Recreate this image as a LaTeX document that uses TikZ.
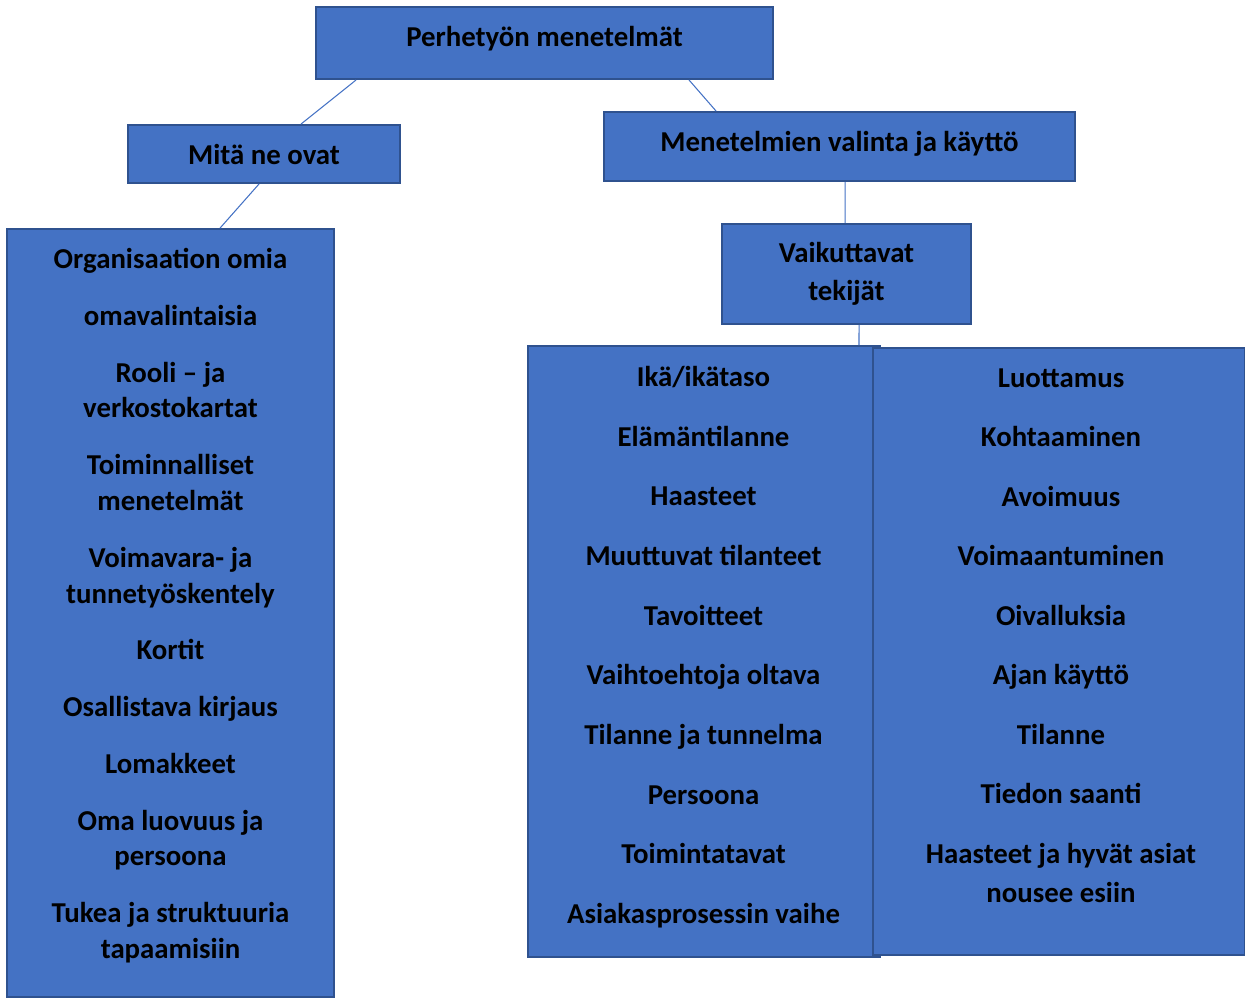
\documentclass[tikz,border=0pt]{standalone}
\usepackage{fontspec}
\setmainfont{Carlito}
\definecolor{boxblue}{HTML}{4472C4}
\definecolor{boxedge}{HTML}{2F528F}

\begin{document}
\begin{tikzpicture}[x=0.02cm, y=-0.02cm]
%define
\tikzstyle{box} = [rectangle, fill=boxblue, draw=boxedge, line width=1.1pt, text centered, inner sep=0pt, text height=11pt, font=\bfseries\fontsize{16.4}{20}\selectfont]
\tikzstyle{list} = [anchor=north, align=center, inner sep=0pt, font=\bfseries\fontsize{16.4}{20.4}\selectfont]
\tikzstyle{link} = [draw=boxblue, line width=0.6pt]

\useasboundingbox (0,0) rectangle (1245,998);

\node[box, minimum width=9.14cm, minimum height=1.44cm, text depth=6.8pt](top) at (544.5,43){Perhetyön menetelmät};
\node[box, minimum width=5.44cm, minimum height=1.16cm, text height=13.3pt, text depth=1pt](mita) at (264,154){Mitä ne ovat};
\node[box, minimum width=9.42cm, minimum height=1.38cm, text depth=5.5pt](valinta) at (839.5,146.5){Menetelmien valinta ja käyttö};
\node[box, minimum width=6.54cm, minimum height=15.36cm](metodit) at (170.5,613){};
\node[box, minimum width=4.98cm, minimum height=2cm, text height=, align=center, font=\bfseries\fontsize{16.4}{21.5}\selectfont](tekijat) at (846.5,274){Vaikuttavat\\ tekijät};
\node[box, minimum width=7.04cm, minimum height=12.22cm](tekijat_a) at (704,651.5){};
\node[box, minimum width=7.44cm, minimum height=12.14cm](tekijat_b) at (1059,651.5){};

\node[list](metoditxt) at (170.5,248){Organisaation omia\\[11.9pt]
omavalintaisia\\[11.9pt]
Rooli – ja\\ verkostokartat\\[11.9pt]
Toiminnalliset\\ menetelmät\\[11.9pt]
Voimavara- ja\\ tunnetyöskentely\\[11.9pt]
Kortit\\[11.9pt]
Osallistava kirjaus\\[11.9pt]
Lomakkeet\\[11.9pt]
Oma luovuus ja\\ persoona\\[11.9pt]
Tukea ja struktuuria\\ tapaamisiin};

\node[list, font=\bfseries\fontsize{16.4}{33.95}\selectfont](tekijat_atxt) at (703.5,366){Ikä/ikätaso\\ Elämäntilanne\\ Haasteet\\ Muuttuvat tilanteet\\ Tavoitteet\\ Vaihtoehtoja oltava\\ Tilanne ja tunnelma\\ Persoona\\ Toimintatavat\\ Asiakasprosessin vaihe};

\node[list, font=\bfseries\fontsize{16.4}{22.1}\selectfont](tekijat_btxt) at (1061,368){Luottamus\\[11.8pt]
Kohtaaminen\\[11.8pt]
Avoimuus\\[11.8pt]
Voimaantuminen\\[11.8pt]
Oivalluksia\\[11.8pt]
Ajan käyttö\\[11.8pt]
Tilanne\\[11.8pt]
Tiedon saanti\\[11.8pt]
Haasteet ja hyvät asiat\\ nousee esiin};

\draw[link]([xshift=0.82cm]top.south west) -- ([xshift=3.48cm]mita.north west);
\draw[link]([xshift=7.48cm]top.south west) -- ([xshift=2.26cm]valinta.north west);
\draw[link]([xshift=2.64cm]mita.south west) -- ([xshift=4.28cm]metodit.north west);
\draw[link]([xshift=4.84cm]valinta.south west) -- ([xshift=2.48cm]tekijat.north west);
\draw[link]([xshift=2.76cm]tekijat.south west) -- ([xshift=6.64cm]tekijat_a.north west);

\end{tikzpicture}
\end{document}
